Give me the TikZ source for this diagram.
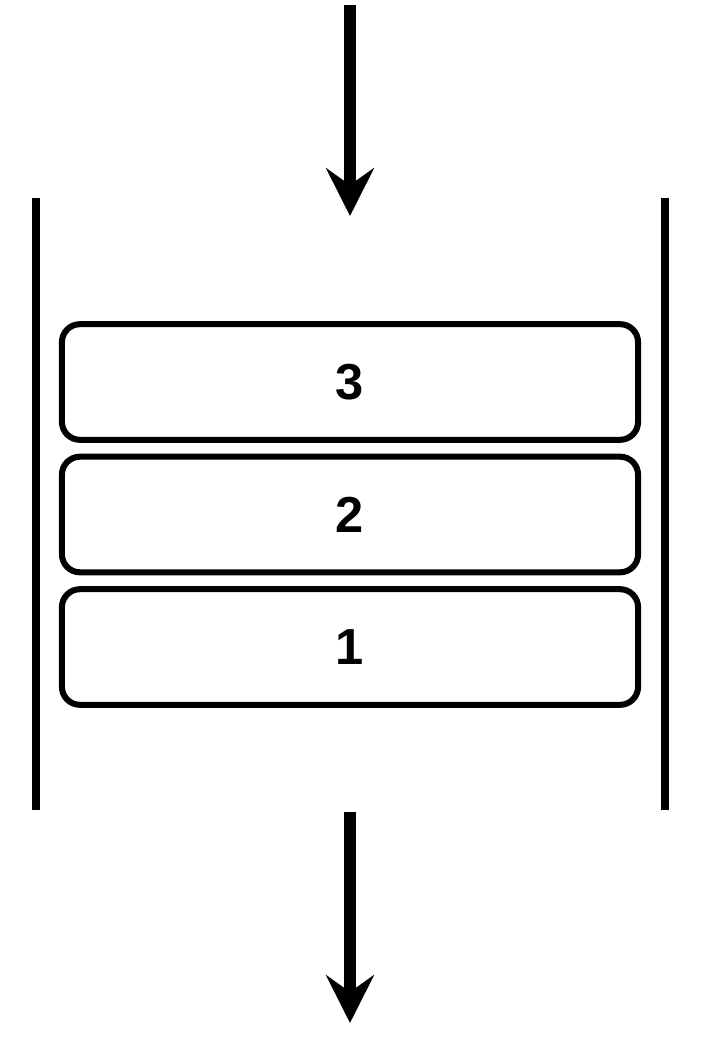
\documentclass[tikz,border=0pt]{standalone}
\usepackage{fontspec}
\setmainfont{Liberation Sans}
\usepackage{tikz}
\usetikzlibrary{arrows.meta,positioning,calc}

\tikzset{
	layer/.style={draw, line width=4.3pt, rounded corners=0.45cm, minimum width=14.4cm, minimum height=2.89cm, font=\fontsize{36}{43}\selectfont\bfseries},
	wall/.style={line width=5.5pt},
	flow/.style={line width=8.5pt, -{Stealth[length=34pt, width=34pt, inset=12pt]}}
}

\begin{document}
\begin{tikzpicture}[x=0.025cm, y=-0.025cm]
		\useasboundingbox (0,0) rectangle (700,1040);
		% walls
		\draw[wall] (36,198) -- (36,810);
		\draw[wall] (665,198) -- (665,810);
		% stacked layers
		\node[layer] (box3) at (350,382) {3};
		\node[layer] (box2) at (350,514.5) {2};
		\node[layer] (box1) at (350,647) {1};
		% in and out
		\coordinate (intop) at (350,5);
		\coordinate (inend) at (350,216);
		\coordinate (outtop) at (350,812);
		\coordinate (outend) at (350,1023);
		\draw[flow] (intop) -- (inend);
		\draw[flow] (outtop) -- (outend);
\end{tikzpicture}
\end{document}
